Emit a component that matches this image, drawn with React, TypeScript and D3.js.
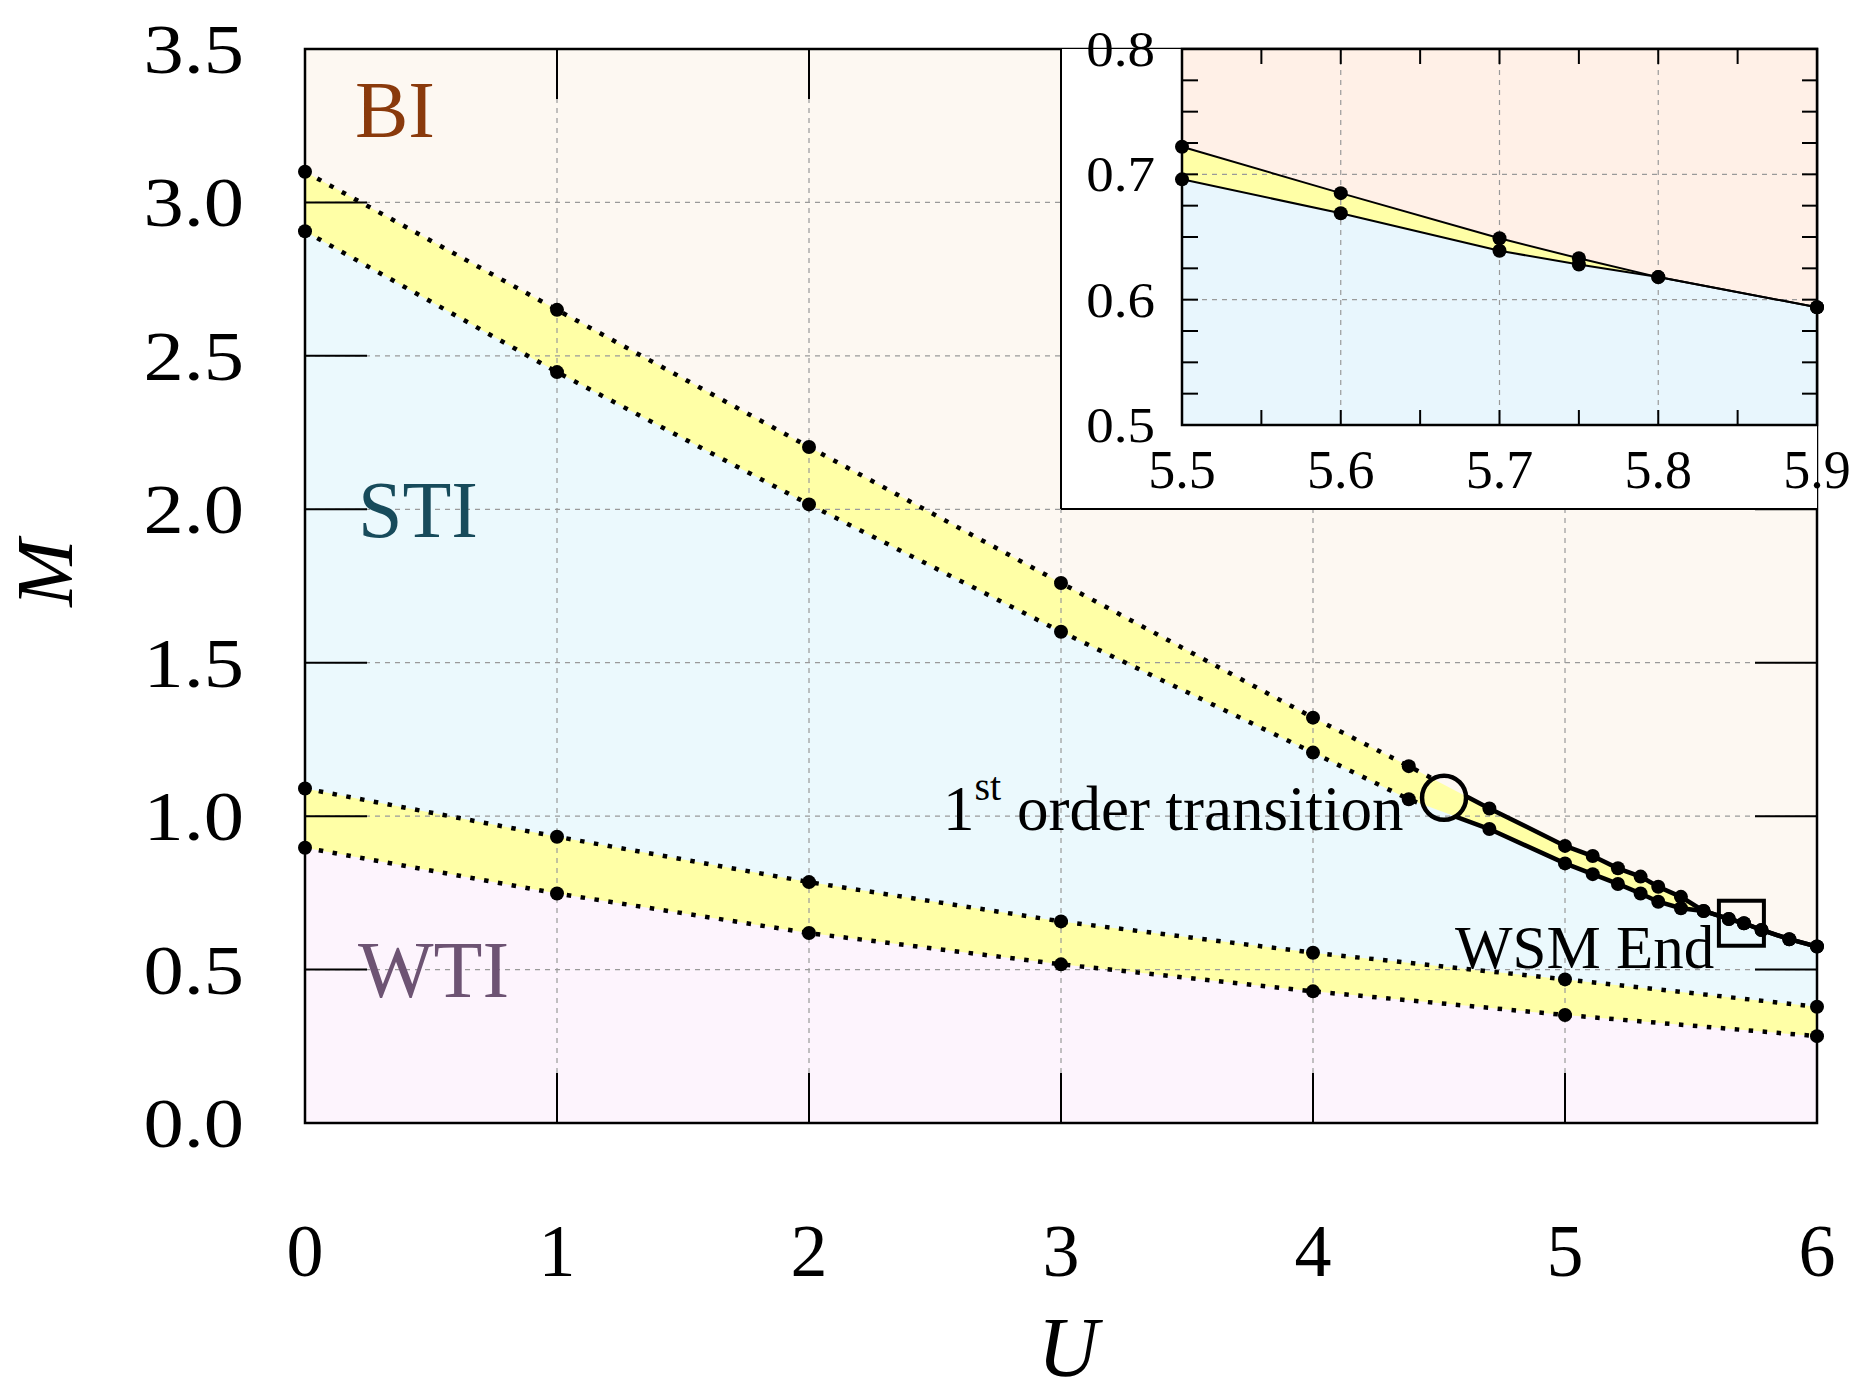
import React from "react";
import * as d3 from "d3";

// main phase diagram: upper yellow band (BI / STI), lower yellow band (STI / WTI)
const U_UPPER = [0, 1, 2, 3, 4, 4.38, 4.7, 5.0, 5.11, 5.21, 5.3, 5.37, 5.46, 5.55, 5.65, 5.71, 5.78, 5.89, 6.0];
const M_BI_EDGE = [3.1, 2.65, 2.203, 1.76, 1.321, 1.163, 1.025, 0.903, 0.87, 0.83, 0.803, 0.77, 0.737, 0.691, 0.665, 0.651, 0.629, 0.599, 0.575];
const M_STI_TOP = [2.906, 2.447, 2.016, 1.601, 1.207, 1.055, 0.958, 0.846, 0.811, 0.779, 0.748, 0.721, 0.7, 0.691, 0.665, 0.651, 0.629, 0.599, 0.575];

const U_LOWER = [0, 1, 2, 3, 4, 5, 6];
const M_STI_BOT = [1.09, 0.933, 0.785, 0.657, 0.555, 0.468, 0.379];
const M_WTI_TOP = [0.897, 0.748, 0.619, 0.517, 0.429, 0.352, 0.283];

const TRANSITION = { u: 4.52, m: 1.06 };
const WSM_END = { u: 5.7, m: 0.651 };

// inset (zoom near the end of the band)
const U_INSET = [5.5, 5.6, 5.7, 5.75, 5.8, 5.9];
const M_INSET_TOP = [0.722, 0.685, 0.649, 0.633, 0.618, 0.594];
const M_INSET_BOT = [0.696, 0.669, 0.639, 0.628, 0.618, 0.594];

const X_TICKS = [0, 1, 2, 3, 4, 5, 6];
const Y_TICKS = [0, 0.5, 1, 1.5, 2, 2.5, 3, 3.5];
const INSET_X_TICKS = [5.5, 5.6, 5.7, 5.8, 5.9];
const INSET_Y_TICKS = [0.5, 0.6, 0.7, 0.8];

const W = 1869, H = 1393;
const SERIF = "'Liberation Serif', 'Times New Roman', serif";
const C = {
  bi: "#fdf8f2",
  sti: "#ebf9fd",
  wti: "#fdf4fd",
  yellow: "#ffffa6",
  biIn: "#fff0e7",
  stiIn: "#e8f6fd",
  grid: "#9a9a9a",
};

export default function App() {
  const x = d3.scaleLinear().domain([0, 6]).range([305, 1817]);
  const y = d3.scaleLinear().domain([0, 3.5]).range([1123, 49]);
  const xi = d3.scaleLinear().domain([5.5, 5.9]).range([1182, 1817]);
  const yi = d3.scaleLinear().domain([0.5, 0.8]).range([425, 49]);

  const pts = (us: number[], ms: number[]) => us.map((u, i) => [u, ms[i]] as [number, number]);

  const line = d3.line<[number, number]>().x(d => x(d[0])).y(d => y(d[1]));
  const area = d3.area<[number, number]>().x(d => x(d[0])).y0(y(0)).y1(d => y(d[1]));
  const lineIn = d3.line<[number, number]>().x(d => xi(d[0])).y(d => yi(d[1]));
  const areaIn = d3.area<[number, number]>().x(d => xi(d[0])).y0(yi(0.5)).y1(d => yi(d[1]));

  const biEdge = pts(U_UPPER, M_BI_EDGE);
  const stiTop = pts(U_UPPER, M_STI_TOP);
  const stiBot = pts(U_LOWER, M_STI_BOT);
  const wtiTop = pts(U_LOWER, M_WTI_TOP);
  const inTop = pts(U_INSET, M_INSET_TOP);
  const inBot = pts(U_INSET, M_INSET_BOT);

  const fmt = d3.format(".1f");
  const tx = x(TRANSITION.u), ty = y(TRANSITION.m);
  const dotted = { stroke: "#000", strokeWidth: 4.5, strokeDasharray: "4.5 9.5", fill: "none" };

  const insetMinorX = d3.range(0, 9).map(i => 5.5 + i * 0.05);
  const insetMinorY = d3.range(0, 13).map(i => 0.5 + i * 0.025);

  return (
    <svg width={W} height={H} style={{ position: "absolute", left: 0, top: 0, background: "#fff" }}
      fontFamily={SERIF}>
      <defs>
        <mask id="noCircle">
          <rect x={0} y={0} width={W} height={H} fill="#fff" />
          <circle cx={tx} cy={ty} r={22} fill="#000" />
        </mask>
        <clipPath id="pre"><rect x={x(0) - 10} y={0} width={tx - x(0) + 10} height={H} /></clipPath>
        <clipPath id="post"><rect x={tx} y={0} width={x(6) + 10 - tx} height={H} /></clipPath>
      </defs>

      {/* region fills */}
      <rect x={x(0)} y={y(3.5)} width={x(6) - x(0)} height={y(0) - y(3.5)} fill={C.bi} />
      <path d={area(biEdge)!} fill={C.yellow} />
      <path d={area(stiTop)!} fill={C.sti} />
      <path d={area(stiBot)!} fill={C.yellow} />
      <path d={area(wtiTop)!} fill={C.wti} />

      {/* grid */}
      {X_TICKS.slice(1, -1).map(t => (
        <line key={"gx" + t} x1={x(t)} x2={x(t)} y1={y(0)} y2={y(3.5)} stroke={C.grid} strokeWidth={1.2} strokeDasharray="5 5" />
      ))}
      {Y_TICKS.slice(1, -1).map(t => (
        <line key={"gy" + t} x1={x(0)} x2={x(6)} y1={y(t)} y2={y(t)} stroke={C.grid} strokeWidth={1.2} strokeDasharray="5 5" />
      ))}

      {/* ticks */}
      {Y_TICKS.slice(1, -1).map(t => (
        <g key={"ty" + t} stroke="#000" strokeWidth={2}>
          <line x1={x(0)} x2={x(0) + 62} y1={y(t)} y2={y(t)} />
          <line x1={x(6) - 62} x2={x(6)} y1={y(t)} y2={y(t)} />
        </g>
      ))}
      {X_TICKS.slice(1, -1).map(t => (
        <g key={"tx" + t} stroke="#000" strokeWidth={2}>
          <line x1={x(t)} x2={x(t)} y1={y(0)} y2={y(0) - 50} />
          <line x1={x(t)} x2={x(t)} y1={y(3.5)} y2={y(3.5) + 50} />
        </g>
      ))}
      <rect x={x(0)} y={y(3.5)} width={x(6) - x(0)} height={y(0) - y(3.5)} fill="none" stroke="#000" strokeWidth={2.5} />

      {/* boundaries */}
      <g mask="url(#noCircle)">
        <path d={line(biEdge)!} {...dotted} clipPath="url(#pre)" />
        <path d={line(stiTop)!} {...dotted} clipPath="url(#pre)" />
        <path d={line(biEdge)!} stroke="#000" strokeWidth={4.5} fill="none" clipPath="url(#post)" />
        <path d={line(stiTop)!} stroke="#000" strokeWidth={4.5} fill="none" clipPath="url(#post)" />
        <path d={line(stiBot)!} {...dotted} />
        <path d={line(wtiTop)!} {...dotted} />
      </g>
      {[...biEdge, ...stiTop, ...stiBot, ...wtiTop].map((d, i) => (
        <circle key={"p" + i} cx={x(d[0])} cy={y(d[1])} r={7} fill="#000" />
      ))}
      <circle cx={tx} cy={ty} r={22} fill="none" stroke="#000" strokeWidth={4.5} />
      <rect x={x(WSM_END.u) - 22.5} y={y(WSM_END.m) - 22.5} width={45} height={45} fill="none" stroke="#000" strokeWidth={4} />

      {/* axis labels */}
      {X_TICKS.map(t => (
        <text key={"lx" + t} x={x(t)} y={1276} fontSize={74} textAnchor="middle">{t}</text>
      ))}
      {Y_TICKS.map(t => (
        <text key={"ly" + t} transform={`translate(244,${y(t) + 24}) scale(1.15,1)`} fontSize={70} textAnchor="end">{fmt(t)}</text>
      ))}
      <text x={1068} y={1376} fontSize={84} fontStyle="italic" textAnchor="middle">U</text>
      <text transform="translate(72,573) rotate(-90)" fontSize={81} fontStyle="italic" textAnchor="middle">M</text>

      {/* annotations */}
      <text x={355} y={137} fontSize={80} fill="#8a3a0c">BI</text>
      <text x={358} y={537} fontSize={80} fill="#174b5b">STI</text>
      <text x={358} y={997} fontSize={80} fill="#6d5373">WTI</text>
      <text x={943} y={830} fontSize={63}>
        1<tspan fontSize={40} dy={-30}>st</tspan><tspan dy={30}> order transition</tspan>
      </text>
      <text x={1455} y={968} fontSize={61}>WSM End</text>

      {/* inset */}
      <rect x={1061} y={49} width={x(6) - 1061} height={509 - 49} fill="#fff" />
      <line x1={1061} x2={1061} y1={49} y2={509} stroke="#000" strokeWidth={2} />
      <line x1={1061} x2={x(6)} y1={509} y2={509} stroke="#000" strokeWidth={2} />

      <rect x={xi(5.5)} y={yi(0.8)} width={xi(5.9) - xi(5.5)} height={yi(0.5) - yi(0.8)} fill={C.biIn} />
      <path d={areaIn(inTop)!} fill={C.yellow} />
      <path d={areaIn(inBot)!} fill={C.stiIn} />
      {[5.6, 5.7, 5.8].map(t => (
        <line key={"igx" + t} x1={xi(t)} x2={xi(t)} y1={yi(0.5)} y2={yi(0.8)} stroke={C.grid} strokeWidth={1.2} strokeDasharray="5 5" />
      ))}
      {[0.6, 0.7].map(t => (
        <line key={"igy" + t} x1={xi(5.5)} x2={xi(5.9)} y1={yi(t)} y2={yi(t)} stroke={C.grid} strokeWidth={1.2} strokeDasharray="5 5" />
      ))}
      {insetMinorX.map(t => (
        <g key={"itx" + t} stroke="#000" strokeWidth={2}>
          <line x1={xi(t)} x2={xi(t)} y1={yi(0.5)} y2={yi(0.5) - 15} />
          <line x1={xi(t)} x2={xi(t)} y1={yi(0.8)} y2={yi(0.8) + 15} />
        </g>
      ))}
      {insetMinorY.map(t => (
        <g key={"ity" + t} stroke="#000" strokeWidth={2}>
          <line x1={xi(5.5)} x2={xi(5.5) + 16} y1={yi(t)} y2={yi(t)} />
          <line x1={xi(5.9) - 15} x2={xi(5.9)} y1={yi(t)} y2={yi(t)} />
        </g>
      ))}
      <rect x={xi(5.5)} y={yi(0.8)} width={xi(5.9) - xi(5.5)} height={yi(0.5) - yi(0.8)} fill="none" stroke="#000" strokeWidth={2.5} />
      <path d={lineIn(inTop)!} stroke="#000" strokeWidth={2} fill="none" />
      <path d={lineIn(inBot)!} stroke="#000" strokeWidth={2} fill="none" />
      {[...inTop, ...inBot].map((d, i) => (
        <circle key={"ip" + i} cx={xi(d[0])} cy={yi(d[1])} r={7} fill="#000" />
      ))}
      {INSET_X_TICKS.map(t => (
        <text key={"ilx" + t} x={xi(t)} y={488} fontSize={54} textAnchor="middle">{fmt(t)}</text>
      ))}
      {INSET_Y_TICKS.map(t => (
        <text key={"ily" + t} transform={`translate(1155,${yi(t) + 17}) scale(1.1,1)`} fontSize={50} textAnchor="end">{fmt(t)}</text>
      ))}
    </svg>
  );
}
